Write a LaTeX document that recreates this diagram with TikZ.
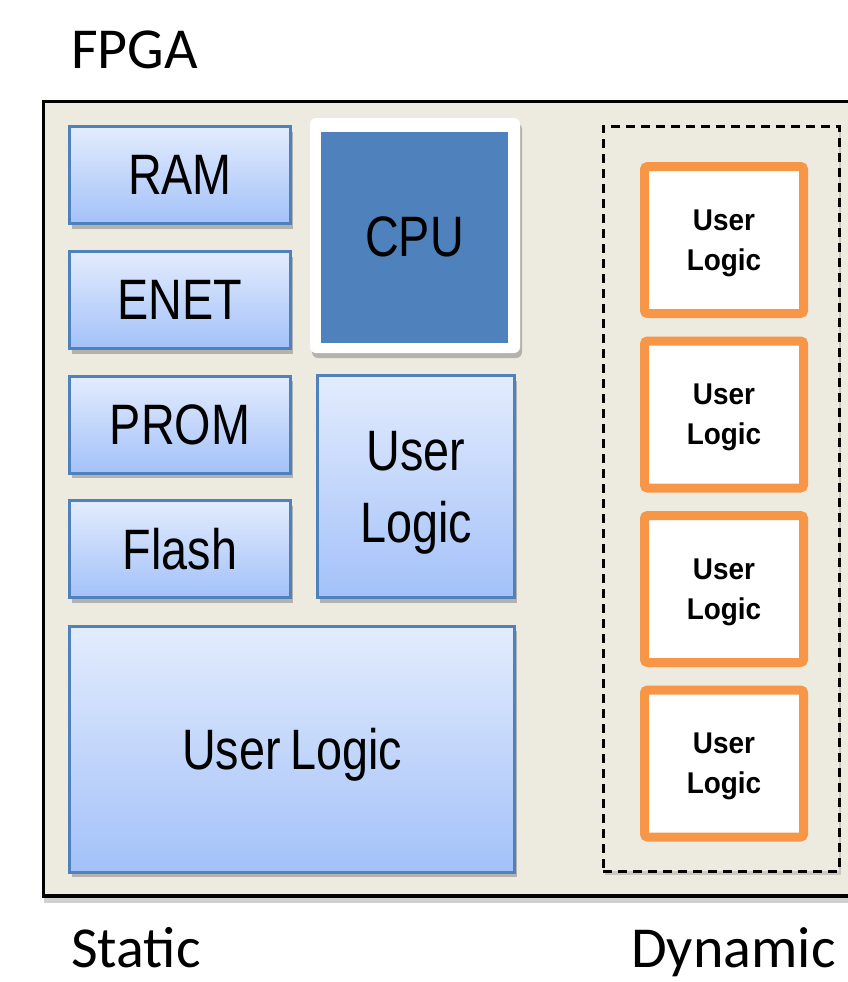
\documentclass[tikz,border=0pt]{standalone}
\usepackage{fontspec}
\setmainfont{Liberation Sans}
\newfontfamily\calibri{Carlito}
\newfontfamily\narrowsans[FakeStretch=0.82]{Liberation Sans}
\newfontfamily\ofont[FakeStretch=0.93]{Liberation Sans}
\usetikzlibrary{shadows}
\definecolor{frameBg}{HTML}{EDEAE0}
\definecolor{boxBorder}{HTML}{4F81BD}
\definecolor{boxTop}{HTML}{E3ECFD}
\definecolor{boxBot}{HTML}{A3C1F9}
\definecolor{cpuBlue}{HTML}{4F81BD}
\definecolor{ulOrange}{HTML}{F79646}
\begin{document}
\begin{tikzpicture}[x=1pt,y=-1pt,
  softshadow/.style={drop shadow={shadow xshift=2pt, shadow yshift=-5pt, opacity=0.35, fill=black!70}},
  bluebox/.style={draw=boxBorder, line width=3pt, top color=boxTop, bottom color=boxBot,
    inner sep=0pt, font=\narrowsans\fontsize{57}{72}\selectfont, align=center, text depth=0pt, softshadow},
  orangebox/.style={draw=ulOrange, line width=9pt, fill=white, rounded corners=3pt,
    minimum width=159pt, minimum height=147pt, inner sep=0pt,
    font=\ofont\bfseries\fontsize{30}{40}\selectfont, align=center, text depth=0pt},
  label/.style={inner sep=0pt, font=\calibri\fontsize{58}{60}\selectfont}
]
\clip (0,0) rectangle (848,982);
\fill[white] (0,0) rectangle (848,982);

% FPGA frame
\node[draw=black, line width=3.5pt, fill=frameBg, inner sep=0pt, minimum width=820pt, minimum height=794.5pt,
  drop shadow={shadow xshift=0pt, shadow yshift=-7pt, opacity=0.3, fill=black!60}] (fpga) at (453.5,498.75) {};

\node[label, anchor=base west] (lfpga) at (71,68) {FPGA};
\node[label, anchor=base west] (lstatic) at (71,967) {Static};
\node[label, anchor=base west] (ldyn) at (631,967) {Dynamic};

% Static blocks
\node[bluebox, minimum width=221pt, minimum height=97pt] (ram) at (180,175) {RAM};
\node[bluebox, minimum width=221pt, minimum height=97pt] (enet) at (180,300) {ENET};
\node[bluebox, minimum width=221pt, minimum height=97pt] (prom) at (180,424.5) {PROM};
\node[bluebox, minimum width=221pt, minimum height=97pt] (flash) at (180,549) {Flash};
\node[bluebox, minimum width=197pt, minimum height=222pt] (ulmid) at (416,486.5) {User\\Logic};
\node[bluebox, minimum width=445pt, minimum height=246pt] (ulbig) at (292,749) {User\,Logic};

% CPU
\node[fill=white, rounded corners=6pt, minimum width=210pt, minimum height=235pt, inner sep=0pt, softshadow] (cpuframe) at (415,235.5) {};
\node[fill=cpuBlue, minimum width=187pt, minimum height=211pt, inner sep=0pt, text depth=0pt,
  font=\narrowsans\fontsize{57}{60}\selectfont] (cpu) at (414.5,237) {CPU};

% Dynamic region
\node[draw=black, dash pattern=on 9pt off 6pt, line width=3pt, fill=frameBg, minimum width=236pt, minimum height=745pt, inner sep=0pt,
  drop shadow={shadow xshift=2pt, shadow yshift=-4pt, opacity=0.25, fill=black!60}] (dyn) at (721,498.5) {};
\node[orangebox] (d1) at (724,240) {User\\Logic};
\node[orangebox] (d2) at (724,414.5) {User\\Logic};
\node[orangebox] (d3) at (724,589) {User\\Logic};
\node[orangebox] (d4) at (724,763.5) {User\\Logic};
\end{tikzpicture}
\end{document}
